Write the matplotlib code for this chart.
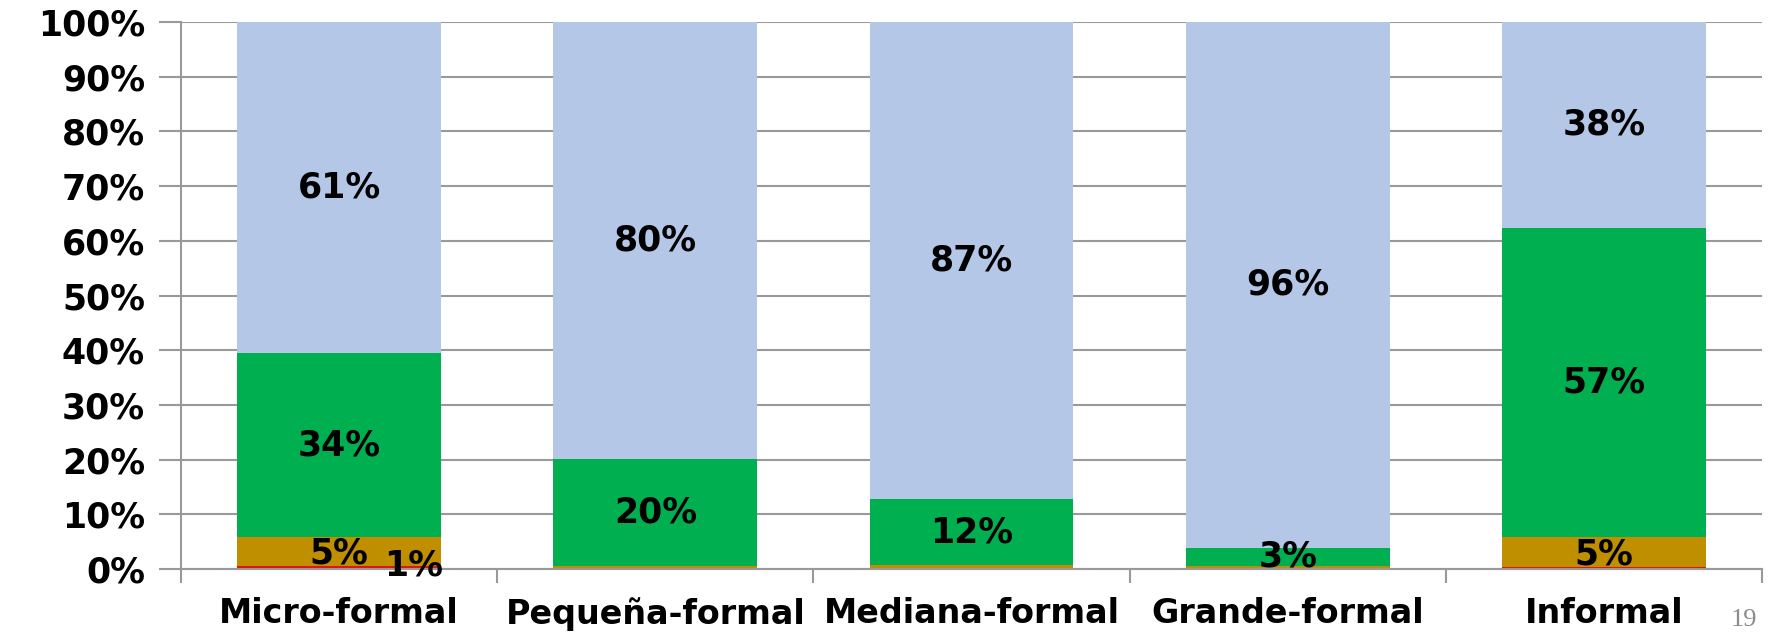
import matplotlib
matplotlib.use("Agg")
import matplotlib.pyplot as plt
import numpy as np

categories = ["Micro-formal", "Pequeña-formal", "Mediana-formal", "Grande-formal", "Informal"]
serie_roja = [0.6, 0.1, 0.2, 0.2, 0.4]
serie_dorada = [5.2, 0.4, 0.5, 0.3, 5.4]
serie_verde = [33.6, 19.6, 12.1, 3.4, 56.6]
serie_azul = [60.6, 79.9, 87.2, 96.1, 37.6]
yticks = [0, 10, 20, 30, 40, 50, 60, 70, 80, 90, 100]

series = [serie_roja, serie_dorada, serie_verde, serie_azul]
colors = ["#E3120B", "#BF8F00", "#00B050", "#B4C7E7"]

plt.rcParams['font.family'] = ['DejaVu Sans']
fig = plt.figure(figsize=(17.68, 6.33), dpi=100)
ax = fig.add_axes([0.1024, 0.1011, 0.8942, 0.8641])

x = np.arange(len(categories))
bottom = np.zeros(len(categories))
width = 0.645
for si, (vals, c) in enumerate(zip(series, colors)):
    vals = np.array(vals)
    ax.bar(x, vals, width, bottom=bottom, color=c, zorder=2, linewidth=0)
    for i, v in enumerate(vals):
        lab = round(v)
        if lab >= 1:
            cy = bottom[i] + v / 2
            cx = x[i]
            dx, dy = 0, 0
            if si == 0:
                # small segment label pushed aside (as in original)
                dx, dy = 74, 2
            elif si == 1:
                dy = -2
            ax.annotate(f"{lab}%", (cx, cy), xytext=(dx, dy), textcoords="offset pixels",
                        ha="center", va="center", fontsize=25, fontweight="bold",
                        color="black", zorder=5, annotation_clip=False)
    bottom += vals

gray = "#999999"
ax.set_xlim(-0.5, len(categories) - 0.5)
ax.set_ylim(0, 100)
ax.set_yticks(yticks)
ax.set_yticklabels([f"{t}%" for t in yticks], fontsize=25, fontweight="bold")
ax.set_xticks(x)
ax.set_xticklabels(categories, fontsize=24, fontweight="bold")
ax.set_xticks(np.arange(len(categories) + 1) - 0.5, minor=True)
ax.tick_params(axis="x", which="major", length=0, pad=20)
ax.tick_params(axis="x", which="minor", length=10, width=1.5, color=gray, direction="out")
ax.tick_params(axis="y", length=16, width=1.5, color=gray, direction="out", pad=10)
ax.yaxis.grid(True, color=gray, linewidth=1.5, zorder=0)
ax.set_axisbelow(True)
for s in ["top", "right"]:
    ax.spines[s].set_visible(False)
for s in ["left", "bottom"]:
    ax.spines[s].set_color(gray)
    ax.spines[s].set_linewidth(1.5)
    ax.spines[s].set_zorder(3)

fig.text(1744 / 1768, 1 - 620 / 633, "19", ha="center", va="center", fontsize=19,
         color="#8C8C8C", family="Liberation Serif")

fig.savefig("out.png", dpi=100)
